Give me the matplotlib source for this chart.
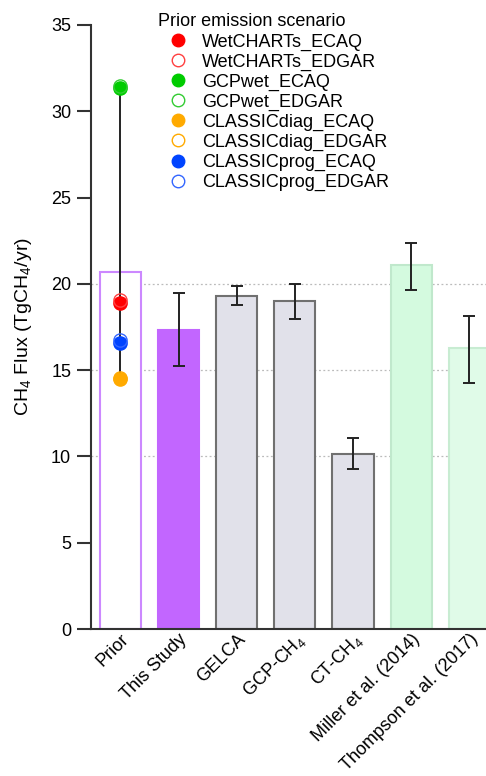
import matplotlib
matplotlib.use("Agg")
import matplotlib.pyplot as plt
from matplotlib.lines import Line2D

plt.rcParams['font.family'] = ['Liberation Sans', 'DejaVu Sans']
plt.rcParams['mathtext.fontset'] = 'custom'
plt.rcParams['mathtext.rm'] = 'Liberation Sans'

categories = ["Prior", "This Study", "GELCA", "GCP-CH$_4$", "CT-CH$_4$",
              "Miller et al. (2014)", "Thompson et al. (2017)"]
values = [20.70, 17.31, 19.29, 18.98, 10.14, 21.07, 16.27]
err_low = [14.47, 15.25, 18.75, 17.99, 9.27, 19.67, 14.24]
err_high = [31.38, 19.46, 19.90, 20.02, 11.07, 22.34, 18.11]

scenario_names = ["WetCHARTs_ECAQ", "WetCHARTs_EDGAR", "GCPwet_ECAQ", "GCPwet_EDGAR",
                  "CLASSICdiag_ECAQ", "CLASSICdiag_EDGAR", "CLASSICprog_ECAQ", "CLASSICprog_EDGAR"]
scenario_values = [18.90, 19.05, 31.32, 31.47, 14.49, 14.52, 16.60, 16.72]
scenario_colors = ["#ff0000", "#ff4040", "#00cc00", "#33cc33",
                   "#ffaa00", "#ffaa00", "#0044ff", "#3366ff"]
scenario_filled = [True, False, True, False, True, False, True, False]

yticks = [0, 5, 10, 15, 20, 25, 30, 35]
grid_levels = [10, 15, 20]

face_colors = ["white", "#c266ff", "#e1e1ea", "#e1e1ea", "#e1e1ea", "#d4fadf", "#e0fbe8"]
edge_colors = ["#cc88ff", "#c266ff", "#707070", "#707070", "#707070", "#c0e8cc", "#c8ecd2"]

fig = plt.figure(figsize=(4.86, 7.76), dpi=100)
ax = fig.add_axes([0.1866, 0.1894, 0.8134 + 0.01, 0.7784])

x = list(range(len(categories)))
for lvl in grid_levels:
    ax.axhline(lvl, color="#bbbbbb", linestyle=(0, (1.5, 2)), linewidth=0.9, zorder=0)

ax.bar(x, values, width=0.71, color=face_colors, edgecolor=edge_colors, linewidth=1.5, zorder=2)

yerr = [[v - lo for v, lo in zip(values, err_low)], [hi - v for v, hi in zip(values, err_high)]]
ax.errorbar(x, values, yerr=yerr, fmt='none', ecolor='#222222', elinewidth=1.4,
            capsize=4.5, capthick=1.4, zorder=3)

order = [i for i in range(len(scenario_names)) if scenario_filled[i]] + \
        [i for i in range(len(scenario_names)) if not scenario_filled[i]]
for i in order:
    c = scenario_colors[i]
    ax.plot([0], [scenario_values[i]], 'o', markersize=9.5,
            markerfacecolor=c if scenario_filled[i] else 'none',
            markeredgecolor=c, markeredgewidth=1.0, zorder=4)

handles = [Line2D([], [], linestyle='none', marker='o', markersize=9,
                  markerfacecolor=scenario_colors[i] if scenario_filled[i] else 'none',
                  markeredgecolor=scenario_colors[i], markeredgewidth=1.0)
           for i in range(len(scenario_names))]
leg = ax.legend(handles, scenario_names, title="Prior emission scenario", frameon=False,
                loc='upper left', bbox_to_anchor=(0.16, 1.025), fontsize=13,
                title_fontsize=13, handletextpad=0.22, labelspacing=0.16,
                borderaxespad=0, handlelength=2.2, borderpad=0.2)
leg._legend_box.align = "left"

ax.set_xlim(-0.51, 6.37)
ax.set_ylim(0, 35)
ax.set_yticks(yticks)
ax.tick_params(axis='y', direction='out', length=10, width=1.5, color='#333333',
               labelsize=13, pad=4)
ax.set_xticks(x)
ax.set_xticklabels(categories, rotation=45, ha='right', rotation_mode='anchor', fontsize=13)
ax.tick_params(axis='x', length=0, pad=1)
for s in ['top', 'right']:
    ax.spines[s].set_visible(False)
for s in ['left', 'bottom']:
    ax.spines[s].set_color('#333333')
    ax.spines[s].set_linewidth(1.5)
ax.set_ylabel("CH$_4$ Flux (TgCH$_4$/yr)", fontsize=14, labelpad=12)

fig.savefig("out.png", dpi=100)
